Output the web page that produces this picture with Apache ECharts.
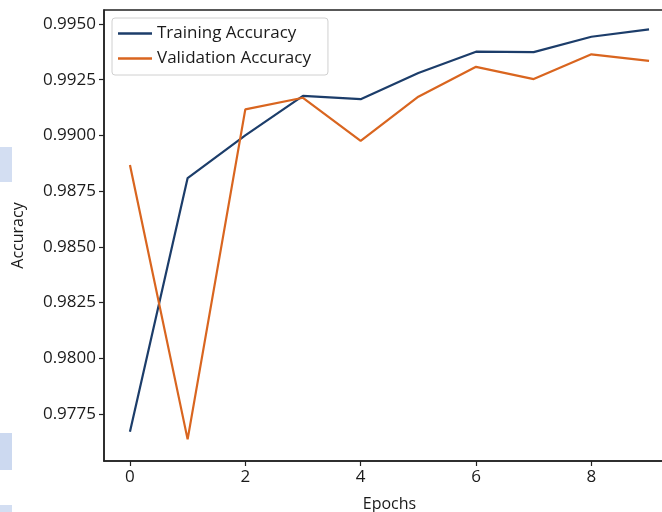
<!DOCTYPE html>
<html>
<head>
<meta charset="utf-8">
<script src="https://cdn.jsdelivr.net/npm/echarts@6/dist/echarts.min.js"></script>
<style>
  html, body { margin: 0; padding: 0; background: #ffffff; }
  #chart { width: 662px; height: 512px; }
</style>
</head>
<body>
<div id="chart"></div>
<script>
// Per-epoch accuracy history
const epochs = [0, 1, 2, 3, 4, 5, 6, 7, 8, 9];
const trainingAccuracy = [0.97670, 0.98809, 0.99000, 0.99178, 0.99163, 0.99280, 0.99376, 0.99374, 0.99443, 0.99476];
const validationAccuracy = [0.98867, 0.97636, 0.99117, 0.99169, 0.98976, 0.99174, 0.99308, 0.99253, 0.99364, 0.99335];
const xTicks = [0, 2, 4, 6, 8];
const yTicks = [0.9775, 0.9800, 0.9825, 0.9850, 0.9875, 0.9900, 0.9925, 0.9950];

const pairs = (xs, ys) => xs.map((x, i) => [x, ys[i]]);

const chart = echarts.init(document.getElementById('chart'), null, { renderer: 'canvas' });
const axisColor = '#222222';
const font = '"Open Sans", "DejaVu Sans", sans-serif';

chart.setOption({
  backgroundColor: '#ffffff',
  animation: false,
  textStyle: { fontFamily: font },
  graphic: [
    { type: 'rect', left: 0, top: 147, shape: { width: 12, height: 35 }, style: { fill: '#d3def2' }, z: -1 },
    { type: 'rect', left: 0, top: 433, shape: { width: 12, height: 37 }, style: { fill: '#ccd9f0' }, z: -1 },
    { type: 'rect', left: 0, top: 505, shape: { width: 12, height: 7 }, style: { fill: '#d3def2' }, z: -1 }
  ],
  grid: {
    left: 104, top: 10, width: 571, height: 451,
    outerBoundsMode: 'none',
    containLabel: false,
    show: true, borderColor: axisColor, borderWidth: 1.5, backgroundColor: 'transparent'
  },
  legend: {
    left: 112, top: 18,
    orient: 'vertical',
    backgroundColor: '#ffffff',
    borderColor: '#d0d0d0', borderWidth: 1, borderRadius: 3,
    padding: [3, 17, 4, 6],
    icon: 'rect',
    itemWidth: 34, itemHeight: 2.5, itemGap: 0,
    textStyle: { fontFamily: font, fontSize: 17, lineHeight: 25, color: '#1a1a1a' },
    data: ['Training Accuracy', 'Validation Accuracy']
  },
  xAxis: {
    type: 'value',
    min: -0.45, max: 9.45,
    name: 'Epochs', nameLocation: 'middle', nameGap: 35,
    nameTextStyle: { fontFamily: font, fontSize: 16, color: '#1a1a1a' },
    axisLine: { show: true, onZero: false, lineStyle: { color: axisColor, width: 1.5 } },
    axisTick: { show: true, length: 5, customValues: xTicks, lineStyle: { color: axisColor, width: 1.2 } },
    axisLabel: { customValues: xTicks, margin: 8, fontFamily: font, fontSize: 17, color: '#1a1a1a' },
    splitLine: { show: false }
  },
  yAxis: {
    type: 'value',
    min: 0.97539, max: 0.99563,
    name: 'Accuracy', nameLocation: 'middle', nameGap: 78, nameRotate: 90,
    nameTextStyle: { fontFamily: font, fontSize: 16, color: '#1a1a1a' },
    axisLine: { show: true, onZero: false, lineStyle: { color: axisColor, width: 1.5 } },
    axisTick: { show: true, length: 5, customValues: yTicks, lineStyle: { color: axisColor, width: 1.2 } },
    axisLabel: {
      customValues: yTicks, margin: 8, fontFamily: font, fontSize: 17, color: '#1a1a1a',
      formatter: v => v.toFixed(4)
    },
    splitLine: { show: false }
  },
  series: [
    {
      name: 'Training Accuracy', type: 'line',
      data: pairs(epochs, trainingAccuracy),
      symbol: 'none', smooth: false,
      lineStyle: { color: '#1c3d6a', width: 2.2 },
      itemStyle: { color: '#1c3d6a' }
    },
    {
      name: 'Validation Accuracy', type: 'line',
      data: pairs(epochs, validationAccuracy),
      symbol: 'none', smooth: false,
      lineStyle: { color: '#d9651f', width: 2.2 },
      itemStyle: { color: '#d9651f' }
    }
  ]
});
</script>
</body>
</html>
